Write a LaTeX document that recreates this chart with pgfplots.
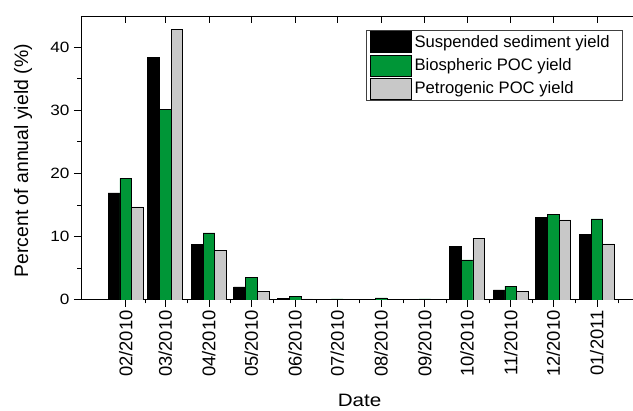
\documentclass[border=0pt]{standalone}
\usepackage{fontspec}
\setmainfont{Liberation Sans}
\newfontfamily\widefont{Liberation Sans}[FakeStretch=1.15]
\usepackage{pgfplots}
\pgfplotsset{compat=1.18}
\usepackage{pgfplotstable}
\definecolor{bgreen}{RGB}{0,150,55}
\definecolor{lgray}{RGB}{200,200,200}
\pgfplotstableread{
x   s     b     p
0   16.9  19.2  14.7
28  38.4  30.1  42.8
59  8.8   10.6  7.85
89  2.05  3.6   1.37
120 0.2   0.58  0.15
150 0.02  0.15  0.05
181 0.1   0.3   0.05
212 0.05  0.15  0.02
242 8.4   6.3   9.7
273 1.58  2.17  1.37
303 13.0  13.55 12.65
334 10.4  12.8  8.85
}\data
\pgfplotsset{mybar/.style={ybar, bar width=8.3, line width=0.6bp, draw=black,
  legend image code/.code={\draw[##1,line width=0.6bp] (0bp,-10.5bp) rectangle (42bp,10.5bp);}}}
\begin{document}
\begin{tikzpicture}
\begin{axis}[name=ax, scale only axis, width=552bp, height=284bp,
  xmin=-31.7, xmax=359.3, ymin=0, ymax=44.9,
  axis x line=bottom, axis y line=left, axis line style={-, line width=0.8bp},
  tick align=outside, major tick length=7bp, minor tick length=3.5bp,
  tick style={black, line width=0.8bp},
  xtick={0,28,59,89,120,150,181,212,242,273,303,334},
  xticklabels={02/2010,03/2010,04/2010,05/2010,06/2010,07/2010,08/2010,09/2010,10/2010,11/2010,12/2010,01/2011},
  minor xtick={14,43.5,74,104.5,135,165.5,196.5,227,257.5,288,318.5,349.5},
  ytick={0,10,20,30,40}, minor ytick={5,15,25,35},
  /pgf/number format/assume math mode=true,
  yticklabel style={font=\widefont\fontsize{15}{17}\selectfont, xshift=-1bp},
  xticklabel style={rotate=90, anchor=east, font=\fontsize{18.5}{20}\selectfont},
  ylabel={Percent of annual yield (\%)},
  ylabel style={at={(axis description cs:-0.105,0.49)}, anchor=center, font=\fontsize{19.5}{21}\selectfont},
  xlabel={Date},
  xlabel style={at={(axis description cs:0.505,-0.356)}, anchor=center, font=\widefont\fontsize{18}{20}\selectfont},
  legend style={at={(1,1)}, anchor=north east, xshift=-10bp, yshift=-14bp,
    draw=black!75, line width=1bp, font=\fontsize{16.7}{18}\selectfont,
    inner xsep=3bp, inner ysep=1bp, row sep=1.5bp, nodes={inner xsep=2.5bp, inner ysep=1.5bp}},
  legend cell align=left,
]
\addplot[mybar, bar shift=-8.3, fill=black] table[x=x,y=s]{\data};
\addplot[mybar, bar shift=0, fill=bgreen] table[x=x,y=b]{\data};
\addplot[mybar, bar shift=8.3, fill=lgray] table[x=x,y=p]{\data};
\legend{Suspended sediment yield\hspace*{7bp}, Biospheric POC yield, Petrogenic POC yield}
\end{axis}
\begin{axis}[scale only axis, width=552bp, height=284bp,
  xmin=-31.7, xmax=359.3, ymin=0, ymax=44.9,
  axis x line=top, axis y line=none, axis line style={-, line width=0.8bp},
  tick align=inside, major tick length=7bp,
  tick style={black, line width=0.8bp},
  xtick={0,28,59,89,120,150,181,212,242,273,303,334},
  xticklabels={}, ytick=\empty,
]
\end{axis}
\path ([xshift=-81bp,yshift=-109bp]ax.south west) rectangle ([yshift=16bp]ax.north east);
\end{tikzpicture}
\end{document}
